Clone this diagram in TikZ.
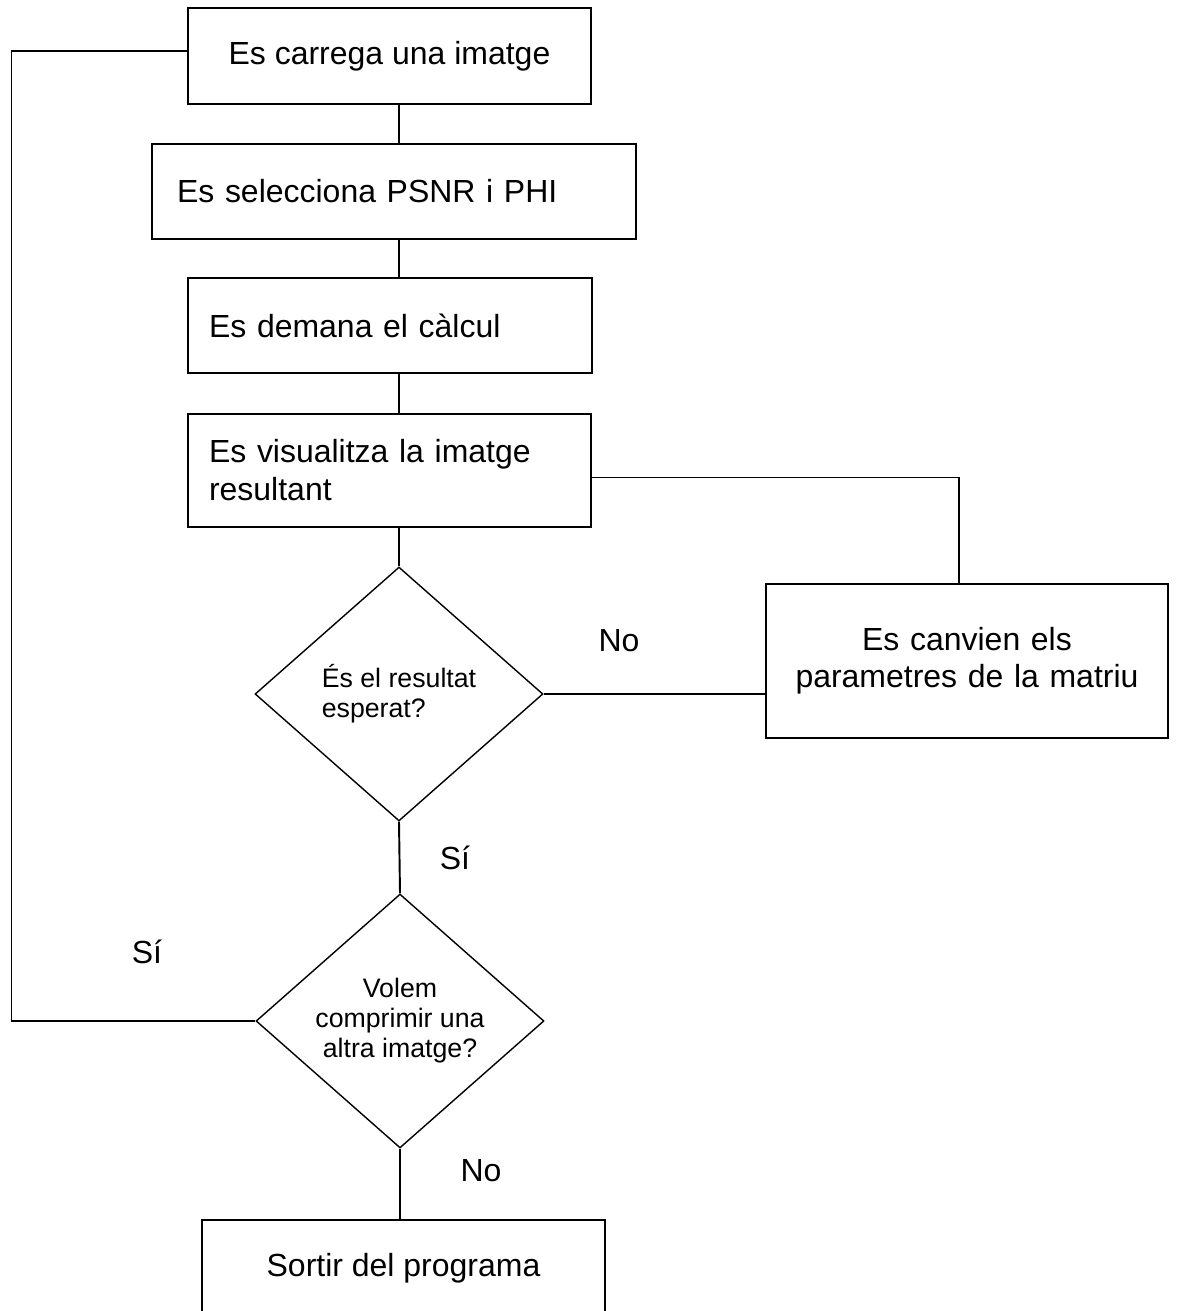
\documentclass[tikz,border=0pt]{standalone}
\usepackage{fontspec}
\setmainfont{Liberation Sans}
\usetikzlibrary{shapes.geometric,calc}
\begin{document}
\begin{tikzpicture}[x=0.02cm,y=-0.02cm]
\tikzset{
  procbox/.style={draw, line width=1.1pt, rectangle, inner sep=0pt,
    font=\fontsize{18.2}{21.3}\selectfont},
  decbox/.style={draw, line width=0.8pt, diamond, aspect=1.134, inner sep=0pt,
    minimum width=5.76cm, minimum height=5.08cm,
    font=\fontsize{15.2}{17.1}\selectfont},
  conn/.style={line width=1.1pt},
  lbl/.style={font=\fontsize{18.2}{21.3}\selectfont, inner sep=0pt}
}
\useasboundingbox (0,0) rectangle (1176,1311);
\clip (0,0) rectangle (1176,1311);
\fill[white] (0,0) rectangle (1176,1311);

% process boxes
\node[procbox, minimum width=8.06cm, minimum height=1.92cm, align=center] (b1) at (389.5,56) {Es carrega una imatge};
\node[procbox, minimum width=9.68cm, minimum height=1.90cm, text width=8.68cm, align=left] (b2) at (394,191.5) {Es selecciona PSNR i PHI};
\node[procbox, minimum width=8.08cm, minimum height=1.90cm, text width=7.24cm, align=left] (b3) at (390,325.5) {Es demana el càlcul};
\node[procbox, minimum width=8.06cm, minimum height=2.26cm, text width=7.22cm, align=left,
      font=\fontsize{18.2}{21.6}\selectfont] (b4) at (389.5,470.5) {Es visualitza la imatge\\resultant};
\node[procbox, minimum width=8.04cm, minimum height=3.08cm, text width=7.5cm, align=center] (b5) at (967,661) {Es canvien els\\parametres de la matriu};
\node[procbox, minimum width=8.06cm, minimum height=1.92cm, align=center] (b6) at (403.5,1268) {Sortir del programa};

% decisions
\node[decbox, align=left] (d1) at (399,694) {És el resultat\\esperat?};
\node[decbox, align=center] (d2) at (400,1021) {Volem\\comprimir una\\altra imatge?};

% connectors
\draw[conn] (b1.south -| d1.north) -- (b2.north -| d1.north);
\draw[conn] (b2.south -| d1.north) -- (b3.north -| d1.north);
\draw[conn] (b3.south -| d1.north) -- (b4.north -| d1.north);
\draw[conn] (b4.south -| d1.north) -- (d1.north);
\draw[conn] ([yshift=-0.14cm]b4.east) -| ([xshift=-0.16cm]b5.north);
\draw[conn] (d1.east) -- (d1.east -| b5.west);
\draw[conn] (d1.south) -- (d2.north);
\draw[conn] (d2.south) -- (d2.south |- b6.north);
\coordinate (lp) at (11.5,51);
\draw[conn] (d2.west) -| (lp) -- (lp -| b1.west);

% labels
\node[lbl] (no1) at (619,641) {No};
\node[lbl] (si1) at (455,858) {Sí};
\node[lbl] (si2) at (147,952) {Sí};
\node[lbl] (no2) at (481,1171) {No};
\end{tikzpicture}
\end{document}
